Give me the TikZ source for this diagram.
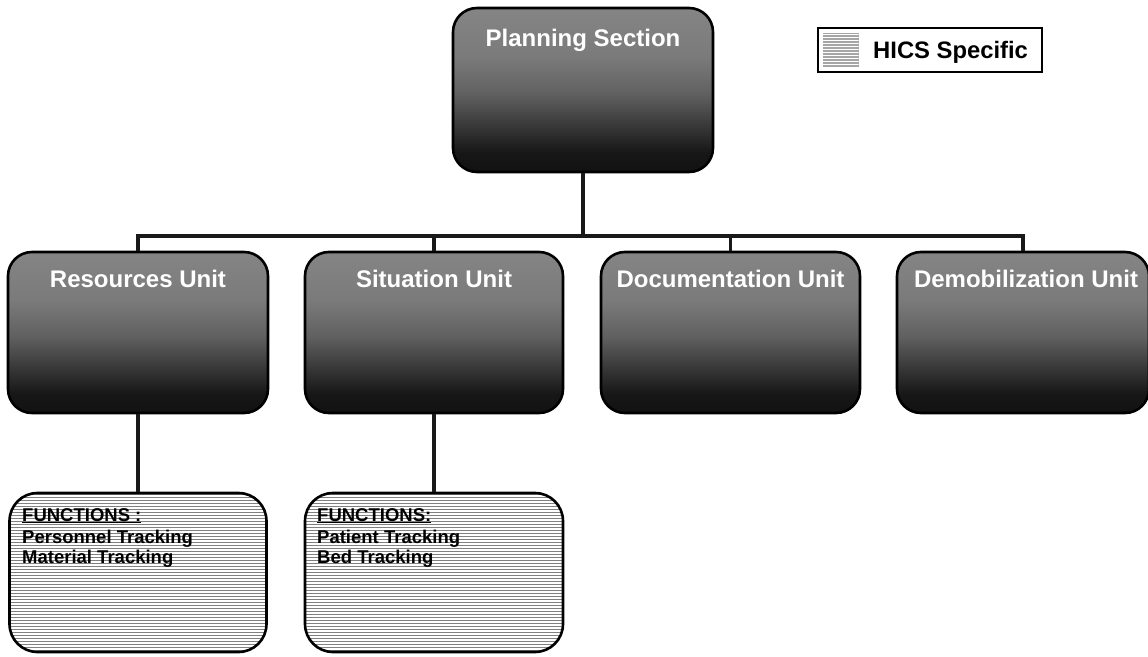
\documentclass[tikz,border=0pt]{standalone}
\usepackage{fontspec}
\setmainfont{Liberation Sans}
\pgfdeclareverticalshading{boxshade}{100bp}{color(0bp)=(black!93); color(25bp)=(black!93); color(31bp)=(black!91); color(49bp)=(black!62); color(60bp)=(black!52); color(75bp)=(black!48); color(100bp)=(black!48)}
\tikzset{
  unitbox/.style={draw=black, line width=2.6pt, rounded corners=24pt, shading=boxshade, shade, inner sep=0pt},
  hlines/.style n args={3}{path picture={
    \foreach \k in {0,...,#1}
      \draw[#2, line width=#3]
        ([yshift=-\k*3pt-1.5pt]path picture bounding box.north west) --
        ([yshift=-\k*3pt-1.5pt]path picture bounding box.north east);}},
  funcbox/.style={draw=black, line width=2.6pt, rounded corners=28pt, inner sep=0pt,
    fill=white, hlines={55}{black!50}{1.3pt}},
  unittext/.style={text=white, font=\bfseries\fontsize{24}{28}\selectfont, inner sep=0pt, anchor=base},
  functext/.style={text=black, font=\bfseries\fontsize{18.5}{20}\selectfont, inner sep=0pt, anchor=base west},
  conn/.style={line width=3.6pt, black!90},
}
\begin{document}
\begin{tikzpicture}[x=1pt,y=-1pt]
\useasboundingbox (0,0) rectangle (1148,656);
\coordinate (bus) at (583,236);
\node[unitbox, minimum width=260pt, minimum height=164pt] (ps) at (583,90) {};
\node[unitbox, minimum width=260pt, minimum height=161pt] (ru) at (138,332.5) {};
\node[unitbox, minimum width=258pt, minimum height=161pt] (su) at (434,332.5) {};
\node[unitbox, minimum width=259pt, minimum height=161pt] (du) at (730.5,332.5) {};
\node[unitbox, minimum width=252pt, minimum height=161pt] (dm) at (1023,332.5) {};
\node[funcbox, minimum width=257pt, minimum height=159pt] (rf) at (138,572.5) {};
\node[funcbox, minimum width=258pt, minimum height=159pt] (sf) at (434,572.5) {};
\draw[conn] (ps.south) -- (bus);
\draw[conn] (bus) -| (ru.north);
\draw[conn] (bus) -| (su.north);
\draw[conn] (bus) -| (du.north);
\draw[conn] (bus) -| (dm.north);
\draw[conn] (ru.south) -- (rf.north);
\draw[conn] (su.south) -- (sf.north);
\node[unittext] (pst) at ([yshift=-40pt]ps.north) {Planning Section};
\node[unittext] (rut) at ([yshift=-37pt]ru.north) {Resources Unit};
\node[unittext] (sut) at ([yshift=-37pt]su.north) {Situation Unit};
\node[unittext] (dut) at ([yshift=-37pt]du.north) {Documentation Unit};
\node[unittext] (dmt) at ([xshift=3pt,yshift=-37pt]dm.north) {Demobilization Unit};
\node[functext] (rf1) at (22,521) {\underline{FUNCTIONS :}};
\node[functext] (rf2) at (22,543) {Personnel Tracking};
\node[functext] (rf3) at (22,563) {Material Tracking};
\node[functext] (sf1) at (317,521) {\underline{FUNCTIONS:}};
\node[functext] (sf2) at (317,543) {Patient Tracking};
\node[functext] (sf3) at (317,563) {Bed Tracking};
\node[draw=black, line width=1.2pt, minimum width=224pt, minimum height=44pt, inner sep=0pt] (leg) at (930,50) {};
\node[fill=black!35, minimum width=36pt, minimum height=34pt, inner sep=0pt,
      hlines={11}{white}{1.1pt}] (sw) at (840.5,50) {};
\node[text=black, font=\bfseries\fontsize{23.8}{28}\selectfont, inner sep=0pt, anchor=base west] (legt) at (873,58) {HICS Specific};
\end{tikzpicture}
\end{document}
